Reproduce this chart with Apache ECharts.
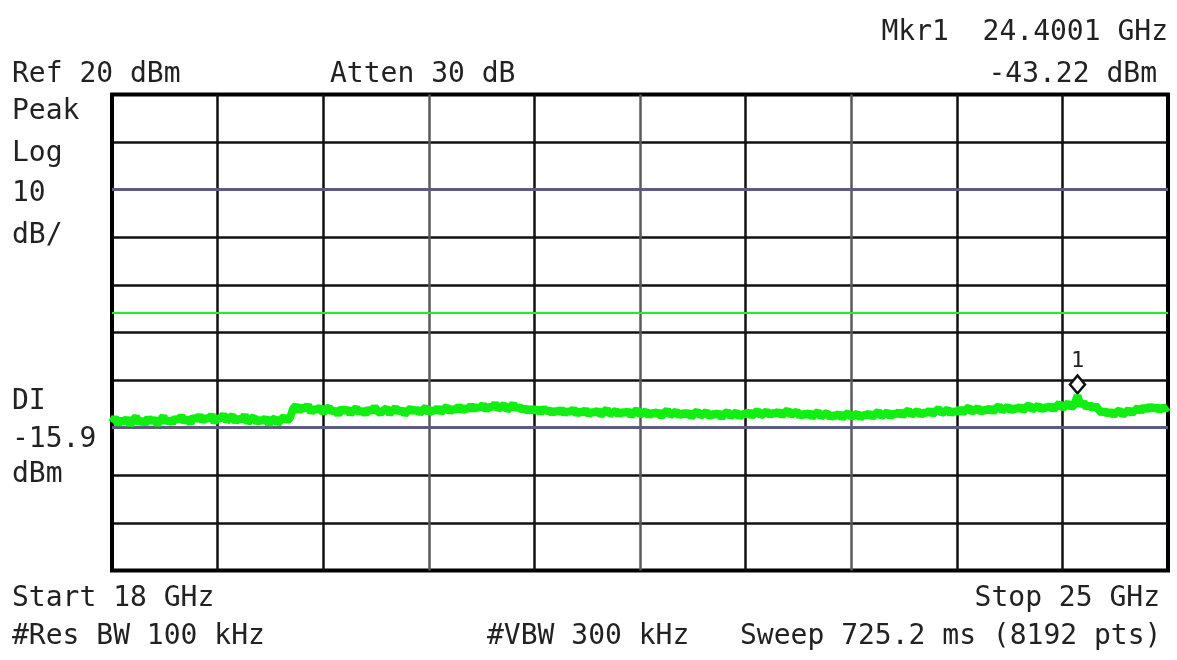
<!DOCTYPE html>
<html>
<head>
<meta charset="utf-8">
<script src="https://cdn.jsdelivr.net/npm/echarts@6/dist/echarts.min.js"></script>
<style>
html,body{margin:0;padding:0;background:#fff;}
#chart{width:1177px;height:660px;}
</style>
</head>
<body>
<div id="chart"></div>
<script>
// Sweep definition
const START_GHZ = 18;
const STOP_GHZ = 25;
const REF_DBM = 20;
const DB_PER_DIV = 10;
const DIVS = 10;
// Trace values (dBm), one every 0.02 GHz from 18.00 to 25.00 GHz
const traceDbm = [
-48.9,-47.8,-49.3,-48.2,-49.0,-48.0,-49.4,-48.4,-47.7,-49.1,
-48.3,-49.2,-47.9,-48.8,-48.1,-49.3,-48.5,-47.6,-48.9,-48.2,
-49.0,-47.9,-48.6,-47.5,-48.8,-48.0,-49.1,-47.7,-48.4,-47.4,
-48.7,-47.8,-48.3,-47.3,-48.9,-47.9,-48.2,-47.2,-48.6,-48.0,
-47.4,-48.8,-47.9,-48.5,-47.3,-49.0,-48.1,-47.8,-48.9,-48.2,
-48.7,-47.9,-49.2,-48.4,-48.0,-49.1,-48.3,-47.7,-48.6,-47.9,
-46.0,-45.3,-46.6,-45.5,-46.3,-45.2,-46.8,-45.9,-46.4,-45.6,
-46.9,-46.1,-45.7,-46.8,-46.2,-47.3,-45.9,-46.6,-46.0,-47.1,
-46.4,-45.8,-46.9,-46.2,-47.2,-46.0,-46.7,-45.6,-46.5,-47.0,
-46.3,-45.9,-47.1,-46.4,-45.8,-46.8,-46.1,-47.2,-46.5,-45.9,
-46.7,-46.0,-47.0,-46.3,-45.7,-46.9,-46.2,-46.6,-45.8,-46.8,
-46.1,-45.6,-46.7,-45.9,-46.4,-45.4,-46.5,-45.8,-46.2,-45.3,
-46.2,-45.5,-46.0,-45.1,-46.3,-45.4,-45.9,-44.9,-46.1,-45.6,
-45.2,-46.3,-45.7,-45.0,-46.1,-45.5,-46.4,-45.8,-46.6,-45.9,
-46.5,-46.0,-46.9,-45.8,-46.7,-46.2,-47.0,-46.3,-46.8,-46.1,
-47.1,-46.4,-46.8,-46.0,-47.2,-46.5,-46.9,-46.2,-47.3,-46.6,
-46.9,-46.3,-47.4,-46.7,-46.1,-47.2,-46.8,-46.4,-47.3,-46.6,
-47.0,-46.4,-47.5,-46.8,-46.2,-47.3,-46.9,-46.5,-47.6,-46.7,
-47.2,-46.6,-47.7,-46.9,-46.3,-47.4,-47.0,-46.5,-47.6,-46.8,
-47.3,-46.7,-47.8,-47.0,-46.5,-47.5,-47.1,-46.6,-47.7,-47.0,
-47.4,-46.8,-47.9,-47.1,-46.6,-47.6,-47.2,-46.7,-47.8,-47.0,
-47.3,-46.6,-47.6,-46.9,-46.4,-47.5,-47.0,-46.5,-47.4,-46.8,
-47.2,-46.5,-47.5,-46.8,-46.3,-47.4,-46.9,-46.6,-47.6,-47.0,
-47.4,-46.8,-47.8,-47.1,-46.7,-47.7,-47.2,-46.9,-47.9,-47.3,
-47.6,-47.0,-48.0,-47.3,-46.9,-47.8,-47.4,-47.0,-48.0,-47.2,
-47.5,-46.9,-47.8,-47.1,-46.6,-47.6,-47.2,-46.7,-47.7,-46.9,
-47.3,-46.6,-47.5,-46.8,-46.3,-47.3,-46.9,-46.4,-47.4,-46.7,
-47.0,-46.3,-47.2,-46.5,-46.0,-47.0,-46.6,-46.1,-47.1,-46.4,
-46.8,-46.0,-46.9,-46.2,-45.7,-46.7,-46.3,-45.8,-46.8,-46.1,
-46.5,-45.8,-46.7,-45.9,-45.4,-46.4,-46.0,-45.5,-46.5,-45.8,
-46.2,-45.5,-46.4,-45.7,-45.2,-46.2,-45.8,-45.3,-46.3,-45.6,
-46.0,-45.3,-46.2,-45.5,-44.9,-45.9,-45.4,-44.8,-45.8,-45.1,
-43.22,-45.4,-44.6,-45.8,-45.1,-46.0,-45.3,-46.2,-46.9,-46.4,
-47.2,-46.5,-47.4,-46.7,-46.3,-47.3,-46.8,-46.2,-47.0,-46.4,
-45.8,-46.6,-45.6,-46.3,-45.4,-46.2,-45.5,-46.4,-45.7,-46.1,-45.6
];
const MARKER_GHZ = 24.4001;
const MARKER_DBM = -43.22;
const MARKER_LABEL = '1';
const DISPLAY_LINE_DBM = -25.9;
const LIMIT_LINES_DBM = [0, -50];

// Annotations
const headerLeft = ['Ref 20 dBm', 'Atten 30 dB'];
const markerText = ['Mkr1  24.4001 GHz', '-43.22 dBm'];
const sideTop = ['Peak', 'Log', '10', 'dB/'];
const sideBottom = ['DI', '-15.9', 'dBm'];
const footer = ['Start 18 GHz', 'Stop 25 GHz', '#Res BW 100 kHz', '#VBW 300 kHz', 'Sweep 725.2 ms (8192 pts)'];

const step = (STOP_GHZ - START_GHZ) / (traceDbm.length - 1);
const traceData = traceDbm.map((v, i) => [START_GHZ + i * step, v]);

const FONT = '"DejaVu Sans Mono", monospace';
function txt(s, x, y, align) {
  return { type: 'text', x: x, y: y, silent: true,
    style: { text: s, x: 0, y: 0, font: '28px ' + FONT, fill: '#222', align: align || 'left', verticalAlign: 'middle' } };
}

const vColors = ['#000', '#111', '#111', '#5a5a5a', '#111', '#5a5a5a', '#111', '#5a5a5a', '#111', '#111', '#000'];
const hColors = ['#000', '#111', '#111', '#111', '#111', '#111', '#111', '#111', '#111', '#111', '#000'];

const chart = echarts.init(document.getElementById('chart'), null, { renderer: 'canvas' });
chart.setOption({
  animation: false,
  backgroundColor: '#fff',
  grid: { left: 112, right: 9, top: 94.5, bottom: 89.5, show: true, borderColor: '#000', borderWidth: 4, backgroundColor: '#fff', z: 0 },
  xAxis: [
    { type: 'value', min: START_GHZ, max: STOP_GHZ, show: false },
    { type: 'value', min: 0, max: DIVS, interval: 1, position: 'top',
      axisLine: { show: false }, axisTick: { show: false }, axisLabel: { show: false },
      splitLine: { show: true, lineStyle: { color: vColors, width: 2.5 } } }
  ],
  yAxis: {
    type: 'value', min: REF_DBM - DIVS * DB_PER_DIV, max: REF_DBM, interval: DB_PER_DIV,
    axisLine: { show: false }, axisTick: { show: false }, axisLabel: { show: false },
    splitLine: { show: true, lineStyle: { color: hColors, width: 2.5 } }
  },
  series: [
    {
      type: 'line', xAxisIndex: 0, data: traceData, showSymbol: false, symbol: 'none',
      lineStyle: { color: '#11ee11', width: 8, join: 'bevel', cap: 'butt' }, z: 5,
      markLine: {
        silent: true, symbol: 'none', label: { show: false },
        data: LIMIT_LINES_DBM.map(v => ({ yAxis: v, lineStyle: { color: '#5c5c82', width: 3, type: 'solid' } }))
          .concat([{ yAxis: DISPLAY_LINE_DBM, lineStyle: { color: '#22ee22', width: 2, type: 'solid' } }])
      },
      markPoint: {
        silent: true,
        data: [{ coord: [MARKER_GHZ, MARKER_DBM], symbol: 'diamond', symbolSize: [15, 18], symbolOffset: [0, -11],
          itemStyle: { color: '#fff', borderColor: '#111', borderWidth: 2.5 },
          label: { show: true, formatter: MARKER_LABEL, position: 'top', distance: 2, color: '#222', fontSize: 22, fontFamily: FONT } }]
      }
    }
  ],
  graphic: [
    txt(headerLeft[0], 12, 75),
    txt(headerLeft[1], 330, 75),
    txt(markerText[0], 1168, 33, 'right'),
    txt(markerText[1], 1157, 75, 'right'),
    txt(sideTop[0], 12, 112),
    txt(sideTop[1], 12, 154),
    txt(sideTop[2], 12, 194),
    txt(sideTop[3], 12, 236),
    txt(sideBottom[0], 12, 402),
    txt(sideBottom[1], 12, 440),
    txt(sideBottom[2], 12, 475),
    txt(footer[0], 12, 599),
    txt(footer[1], 1160, 599, 'right'),
    txt(footer[2], 12, 637),
    txt(footer[3], 487, 637),
    txt(footer[4], 740, 637)
  ]
});
</script>
</body>
</html>
